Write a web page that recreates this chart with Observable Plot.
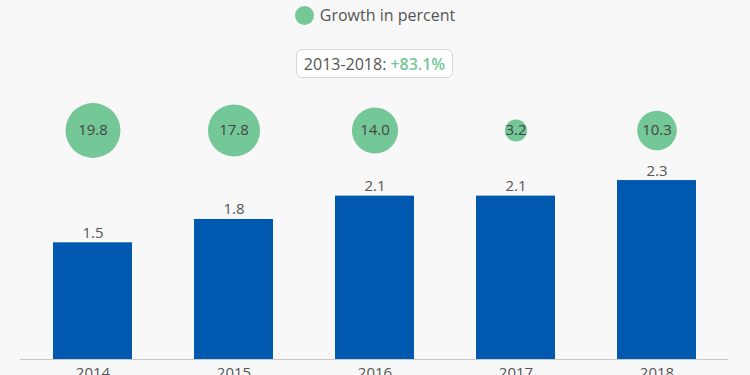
<!DOCTYPE html>
<html>
<head>
<meta charset="utf-8">
<script src="https://cdn.jsdelivr.net/npm/d3@7"></script>
<script src="https://cdn.jsdelivr.net/npm/@observablehq/plot@0.6"></script>
<style>
  html, body { margin: 0; padding: 0; background: #f8f8f8; overflow: hidden; }
  body { width: 750px; height: 375px; font-family: "Open Sans", sans-serif; }
  #header { position: relative; height: 90px; width: 750px; }
  #legend { position: absolute; top: 4px; left: 0; width: 750px; display: flex; justify-content: center; align-items: center; gap: 6px; font-size: 16px; color: #555; }
  #legend .sw { width: 19px; height: 19px; border-radius: 50%; background: #74c797; display: inline-block; }
  #box { position: absolute; top: 49px; left: 296px; width: 155px; height: 27px; border: 1px solid #d8d8d8; border-radius: 6px; background: #fff; display: flex; justify-content: center; align-items: center; font-size: 16px; color: #555; }
  #box .g { color: #74c797; font-weight: 600; margin-left: 4px; }
</style>
</head>
<body>
<div id="header">
  <div id="legend"><span class="sw"></span><span id="legendLabel"></span></div>
  <div id="box"><span id="periodLabel"></span><span class="g" id="periodValue"></span></div>
</div>
<div id="chart"></div>
<script>
const years = ["2014", "2015", "2016", "2017", "2018"];
const values = [1.5, 1.8, 2.1, 2.1, 2.3];
const growth = [19.8, 17.8, 14.0, 3.2, 10.3];
const legendLabel = "Growth in percent";
const periodLabel = "2013-2018:";
const periodValue = "+83.1%";

document.getElementById("legendLabel").textContent = legendLabel;
document.getElementById("periodLabel").textContent = periodLabel;
document.getElementById("periodValue").textContent = periodValue;

const data = years.map((y, i) => ({year: y, value: values[i], growth: growth[i]}));

const blue = "#0058af";
const green = "#74c797";

const chart = Plot.plot({
  width: 750,
  height: 300,
  marginLeft: 20,
  marginRight: 22,
  marginTop: 35.6,
  marginBottom: 31,
  style: {background: "transparent", fontFamily: "Open Sans, sans-serif"},
  x: {domain: years, paddingInner: 0.44, paddingOuter: 0.22, label: null},
  y: {domain: [0, 3], axis: null},
  r: {domain: [0, 20], range: [0, 27.6]},
  marks: [
    Plot.barY(data, {x: "year", y: "value", fill: blue}),
    Plot.ruleY([0], {stroke: "#c8c8c8", strokeWidth: 1}),
    Plot.text(data, {x: "year", y: "value", text: d => d.value.toFixed(1), lineAnchor: "bottom", dy: -5, fontSize: 15, fill: "#555"}),
    Plot.dot(data, {x: "year", r: "growth", fill: green, frameAnchor: "top", dy: 4.4}),
    Plot.text(data, {x: "year", text: d => d.growth.toFixed(1), frameAnchor: "top", lineAnchor: "middle", dy: 4.4, fontSize: 15, fill: "#444"}),
    Plot.axisX({tickSize: 0, tickPadding: 8, fontSize: 15, color: "#555", label: null})
  ]
});
document.getElementById("chart").appendChild(chart);
</script>
</body>
</html>
